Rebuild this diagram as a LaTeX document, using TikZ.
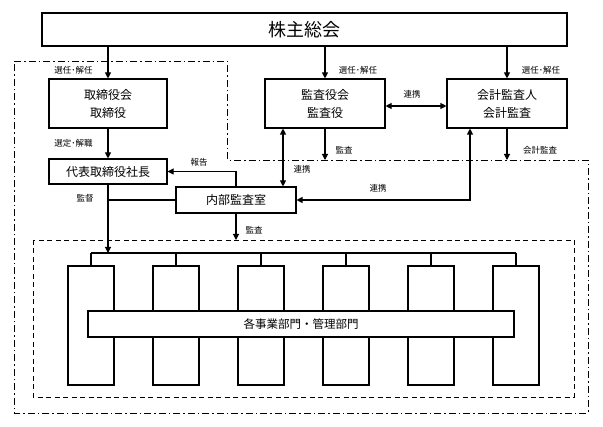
\documentclass[tikz,border=0pt]{standalone}
\usepackage{fontspec}
\newfontfamily\jp{Noto Sans CJK JP}
\usetikzlibrary{arrows.meta}
\tikzset{
  box/.style={draw, line width=1.1pt, fill=white, inner sep=0pt, align=center,
    font=\jp\fontsize{12}{18}\selectfont},
  tall/.style={draw, line width=1.1pt, fill=white, minimum width=46pt, minimum height=119pt, inner sep=0pt},
  lbl/.style={font=\jp\fontsize{8.5}{10}\selectfont, inner sep=0pt},
  conn/.style={line width=1.1pt},
  arr/.style={conn, -{Triangle[length=6pt,width=6pt]}},
  arrb/.style={conn, {Triangle[length=6pt,width=6pt]}-{Triangle[length=6pt,width=6pt]}},
  dashdot/.style={line width=0.9pt, dash pattern=on 7pt off 3pt on 1.5pt off 3pt},
  dashbox/.style={line width=0.9pt, dash pattern=on 5pt off 3.5pt}
}
\begin{document}
\begin{tikzpicture}[x=1pt,y=-1pt]
\useasboundingbox (0,0) rectangle (603,427);
% outer regions
\draw[dashdot] (14,61) -- (227,61) -- (227,160) -- (588,160) -- (588,413) -- (14,413) -- cycle;
\draw[dashbox] (33,240) rectangle (574,397);
% nodes
\node[box, minimum width=525pt, minimum height=33pt, font=\jp\fontsize{18}{20}\selectfont] (top) at (304.5,29.5) {株主総会};
\node[box, minimum width=118pt, minimum height=49pt] (board) at (108,103.5) {取締役会\\取締役};
\node[box, minimum width=118pt, minimum height=25pt] (pres) at (108,171.5) {代表取締役社長};
\node[box, minimum width=120pt, minimum height=49pt] (kansa) at (325,103.5) {監査役会\\監査役};
\node[box, minimum width=120pt, minimum height=49pt] (audit) at (507,103.5) {会計監査人\\会計監査};
\node[box, minimum width=120pt, minimum height=26pt] (inner) at (236,200) {内部監査室};
\foreach \i/\x in {1/91,2/176,3/261,4/346,5/431,6/516}{
  \node[tall] (t\i) at (\x,325.5) {};
}
\node[box, minimum width=426pt, minimum height=26pt, font=\jp\fontsize{11.5}{14}\selectfont] (wide) at (301,324) {各事業部門・管理部門};
% helper coordinates
\coordinate (bus) at (0,253);
\coordinate (ddline) at (0,160);
\coordinate (dtop) at (0,240);
\coordinate (k1) at (283,0);
\coordinate (a1) at (470,0);
% connectors
\draw[arr] (board.north |- top.south) -- (board.north);
\draw[arr] (kansa.north |- top.south) -- (kansa.north);
\draw[arr] (audit.north |- top.south) -- (audit.north);
\draw[arr] (board.south) -- (pres.north);
\draw[arrb] ([yshift=-2.5pt]kansa.east) -- ([yshift=-2.5pt]audit.west);
\draw[arr] (kansa.south) -- (kansa.south |- ddline);
\draw[arr] (audit.south) -- (audit.south |- ddline);
\draw[arrb] (k1 |- kansa.south) -- (k1 |- inner.north);
\draw[arrb] (a1 |- audit.south) -- (a1 |- inner.east) -- (inner.east);
\draw[arr] (inner.north) |- (pres.east);
\draw[conn] (inner.west) -- (inner.west -| pres.south);
\draw[arr] (pres.south) -- (pres.south |- bus);
\draw[arr] (inner.south) -- (inner.south |- dtop);
\draw[conn] (t1.north |- bus) -- (t6.north |- bus);
\foreach \i in {1,...,6}{ \draw[conn] (t\i.north |- bus) -- (t\i.north); }
% labels
\node[lbl] (l1) at (73.5,70) {選任･解任};
\node[lbl] (l2) at (73.5,143) {選定･解職};
\node[lbl] (l3) at (85,198) {監督};
\node[lbl] (l4) at (358,70) {選任･解任};
\node[lbl] (l5) at (541,70) {選任･解任};
\node[lbl] (l6) at (412,94) {連携};
\node[lbl] (l7) at (344,150) {監査};
\node[lbl] (l8) at (540,150) {会計監査};
\node[lbl] (l9) at (199,162) {報告};
\node[lbl] (l10) at (302,169) {連携};
\node[lbl] (l11) at (378,188) {連携};
\node[lbl] (l12) at (254,230) {監査};
\end{tikzpicture}
\end{document}
